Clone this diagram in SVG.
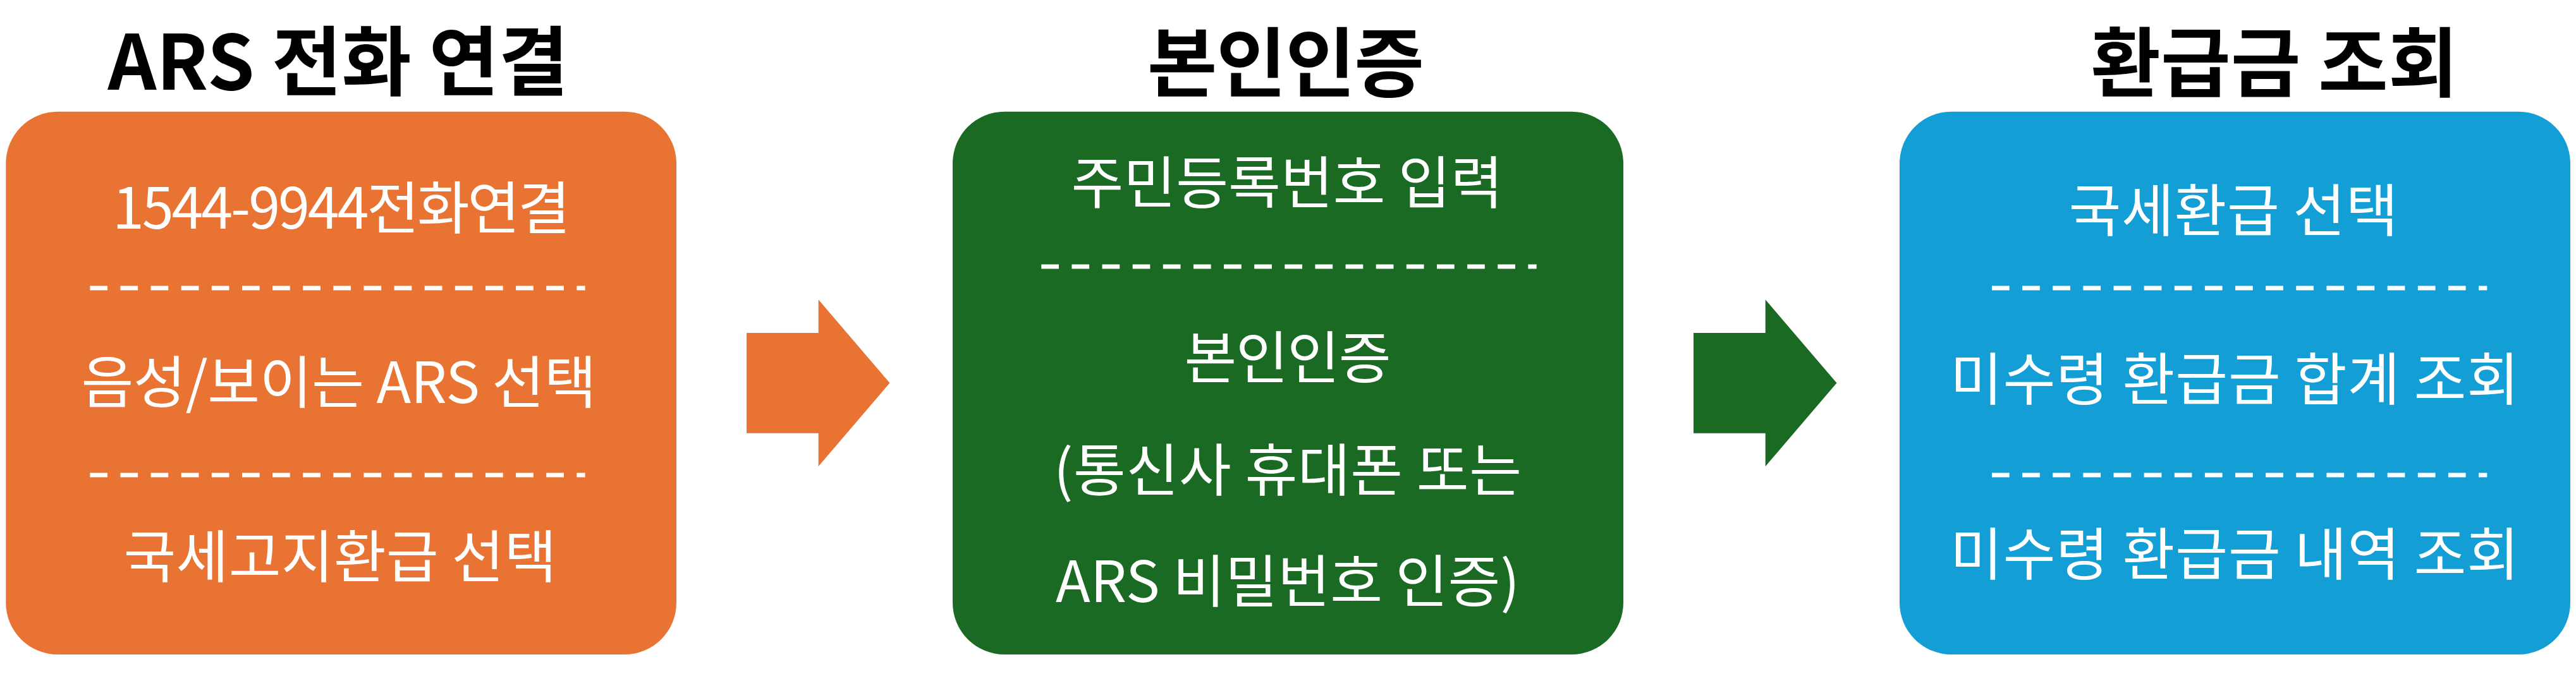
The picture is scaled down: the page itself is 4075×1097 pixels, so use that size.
<svg xmlns="http://www.w3.org/2000/svg" width="4075" height="1097" viewBox="0 0 4075 1097">
<style>
.title{font-family:"Noto Sans CJK KR","Noto Sans",sans-serif;font-weight:700;font-size:120px;fill:#000;text-anchor:middle}
.body{font-family:"Noto Sans CJK KR","Noto Sans",sans-serif;font-size:90px;fill:#fff;text-anchor:middle}
.dash{stroke:#fff;stroke-width:7;stroke-dasharray:27.7 20.43;fill:none}
</style>
<rect width="4075" height="1097" fill="#fff"/>
<g id="node-ars">
<text class="title" x="535" y="142" textLength="729" lengthAdjust="spacing">ARS 전화 연결</text>
<rect x="9.3" y="176.7" width="1060.7" height="859.3" rx="82" ry="82" fill="#E87333"/>
<text class="body" x="540" y="362" textLength="724" lengthAdjust="spacing">1544-9944전화연결</text>
<line class="dash" x1="142.3" y1="456" x2="925.7" y2="456"/>
<text class="body" x="536" y="638" textLength="815" lengthAdjust="spacing">음성/보이는 ARS 선택</text>
<line class="dash" x1="142.3" y1="752" x2="925.7" y2="752"/>
<text class="body" x="538" y="914" textLength="685" lengthAdjust="spacing">국세고지환급 선택</text>
</g>
<g id="node-auth">
<text class="title" x="2034" y="144" textLength="438" lengthAdjust="spacing">본인인증</text>
<rect x="1507" y="176.7" width="1061" height="859.3" rx="82" ry="82" fill="#1B6A23"/>
<text class="body" x="2036" y="322" textLength="683" lengthAdjust="spacing">주민등록번호 입력</text>
<line class="dash" x1="1647.3" y1="422" x2="2430.7" y2="422"/>
<text class="body" x="2037" y="599" textLength="327" lengthAdjust="spacing">본인인증</text>
<text class="body" x="2037" y="777" textLength="740" lengthAdjust="spacing">(통신사 휴대폰 또는</text>
<text class="body" x="2037" y="953" textLength="734" lengthAdjust="spacing">ARS 비밀번호 인증)</text>
</g>
<g id="node-refund">
<text class="title" x="3598" y="144" textLength="581" lengthAdjust="spacing">환급금 조회</text>
<rect x="3005" y="176.7" width="1061" height="859.3" rx="82" ry="82" fill="#139ED5"/>
<text class="body" x="3533" y="366" textLength="521" lengthAdjust="spacing">국세환급 선택</text>
<line class="dash" x1="3151" y1="456" x2="3934.3" y2="456"/>
<text class="body" x="3535" y="633" textLength="900" lengthAdjust="spacing">미수령 환급금 합계 조회</text>
<line class="dash" x1="3151" y1="752" x2="3934.3" y2="752"/>
<text class="body" x="3535" y="910" textLength="900" lengthAdjust="spacing">미수령 환급금 내역 조회</text>
</g>
<g id="connectors">
<polygon points="1181,527 1294.7,527 1294.7,474.3 1407.5,606.3 1294.7,738.3 1294.7,685.7 1181,685.7" fill="#E87333"/>
<polygon points="2679,527 2792.7,527 2792.7,474.3 2905.5,606.3 2792.7,738.3 2792.7,685.7 2679,685.7" fill="#1B6A23"/>
</g>
</svg>
